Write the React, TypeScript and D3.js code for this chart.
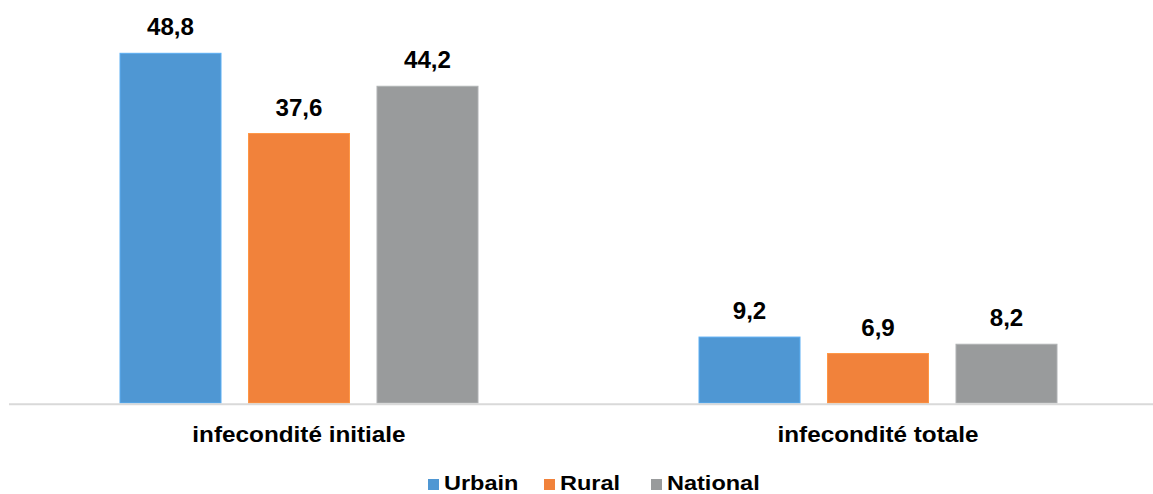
import React from "react";
import * as d3 from "d3";

const categories = ["infecondité initiale", "infecondité totale"];
const seriesNames = ["Urbain", "Rural", "National"];
const urbain = [48.8, 9.2];
const rural = [37.6, 6.9];
const national = [44.2, 8.2];
const colors = ["#4f97d3", "#f1823b", "#999b9c"];

const W = 1153;
const H = 494;
const FONT = "'Liberation Sans', Arial, sans-serif";

function Txt({ x, y, size, sx = 1.15, anchor = "middle", children }: any) {
  return (
    <text
      transform={`translate(${x},${y}) scale(${sx},1)`}
      textAnchor={anchor}
      fontFamily={FONT}
      fontWeight="bold"
      fontSize={size}
      fill="#000"
    >
      {children}
    </text>
  );
}

export default function App() {
  const values = [urbain, rural, national];
  const x0 = d3.scaleBand<string>().domain(categories).range([9.5, 1167.5]).padding(0);
  const x1 = d3
    .scaleBand<string>()
    .domain(seriesNames)
    .range([0, x0.bandwidth()])
    .paddingInner(0.214)
    .paddingOuter(0.86);
  const y = d3.scaleLinear().domain([0, 50]).range([403, 44.7]);
  const fmt = (v: number) => v.toFixed(1).replace(".", ",");

  const legendX = [428, 544, 651];

  return (
    <svg
      width={W}
      height={H}
      style={{ position: "absolute", left: 0, top: 0, display: "block", background: "#fff" }}
    >
      <rect width={W} height={H} fill="#fff" />
      {categories.map((c, ci) => (
        <g key={c} transform={`translate(${x0(c)},0)`}>
          {seriesNames.map((s, si) => {
            const v = values[si][ci];
            const bx = x1(s)!;
            const bw = x1.bandwidth();
            return (
              <g key={s}>
                <rect
                  x={bx}
                  y={y(v)}
                  width={bw}
                  height={y(0) - y(v)}
                  fill={colors[si]}
                  stroke={d3.color(colors[si])!.brighter(0.4).formatHex()}
                  strokeWidth={1}
                />
                <Txt x={bx + bw / 2} y={y(v) - 18} size={23} sx={1.05}>
                  {fmt(v)}
                </Txt>
              </g>
            );
          })}
          <Txt x={x0.bandwidth() / 2} y={442} size={21.5} sx={1.13}>
            {c}
          </Txt>
        </g>
      ))}
      <line x1={9} x2={W} y1={404.3} y2={404.3} stroke="#d9d9d9" strokeWidth={2} />
      {seriesNames.map((s, i) => (
        <g key={s}>
          <rect x={legendX[i]} y={479} width={11} height={11} fill={colors[i]} />
          <Txt x={legendX[i] + 16} y={490} size={21} sx={1.12} anchor="start">
            {s}
          </Txt>
        </g>
      ))}
    </svg>
  );
}
